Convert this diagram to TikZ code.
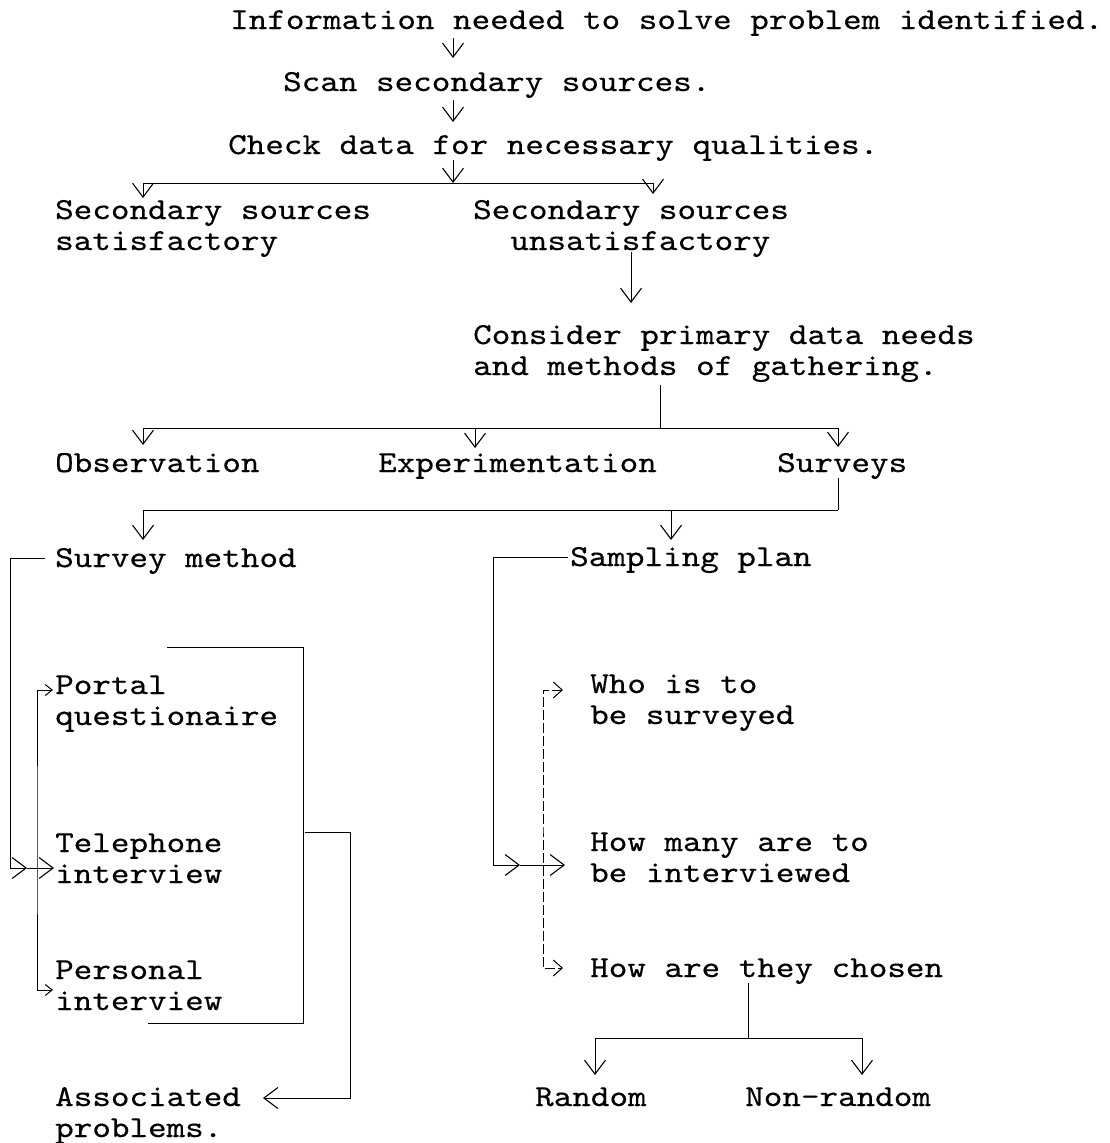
\documentclass[tikz,border=0pt]{standalone}
\usepackage{fontspec}
\setmonofont[FakeStretch=1.16,FakeBold=0.4]{lmmono10-regular.otf}
\usetikzlibrary{arrows.meta,calc}
\begin{document}
\begin{tikzpicture}[x=1pt,y=-1pt,
  txt/.style={font=\fontsize{30.5}{31}\selectfont\ttfamily, inner sep=0pt, anchor=base west, align=left},
  ln/.style={line width=1pt},
  arr/.style={ln,-{Straight Barb[length=14pt,width=21pt,line width=1.1pt]}},
  arrs/.style={ln,{Straight Barb[length=7pt,width=11pt,line width=1pt]}-{Straight Barb[length=7pt,width=11pt,line width=1pt]}},
  dsh/.style={line width=0.8pt, dash pattern=on 10pt off 3pt,
    {Straight Barb[length=9pt,width=16pt,line width=1pt]}-{Straight Barb[length=9pt,width=16pt,line width=1pt]}}]
\useasboundingbox (0,0) rectangle (1109,1143);
% nodes (base anchor = baseline of the last line)
\node[txt] (info) at (230,29) {Information needed to solve problem identified.};
\node[txt] (scan) at (283,91) {Scan secondary sources.};
\node[txt] (check) at (228,154) {Check data for necessary qualities.};
\node[txt] (ssat) at (55,250) {Secondary sources\\satisfactory};
\node[txt] (sunsat) at (473,250) {Secondary sources\\\phantom{xx}unsatisfactory};
\node[txt] (consider) at (473,375) {Consider primary data needs\\and methods of gathering.};
\node[txt] (obs) at (55,472) {Observation};
\node[txt] (expm) at (378,472) {Experimentation};
\node[txt] (surv) at (777,472) {Surveys};
\node[txt] (smeth) at (55,567) {Survey method};
\node[txt] (splan) at (570,566) {Sampling plan};
\node[txt] (portal) at (55,725) {Portal\\questionaire};
\node[txt] (tel) at (55,883) {Telephone\\interview};
\node[txt] (pers) at (55,1010) {Personal\\interview};
\node[txt] (assoc) at (55,1137) {Associated\\problems.};
\node[txt] (who) at (590,724) {Who is to\\be surveyed};
\node[txt] (many) at (590,882) {How many are to\\be interviewed};
\node[txt] (chosen) at (590,977) {How are they chosen};
\node[txt] (rand) at (535,1106) {Random};
\node[txt] (nonrand) at (745,1106) {Non-random};
% junction coordinates
\coordinate (j1) at (453,183);
\coordinate (b1) at (143,183);
\coordinate (b2) at (653,183);
\coordinate (c1) at (631,0);
\coordinate (d0) at (660,428);
\coordinate (d1) at (143,428);
\coordinate (d2) at (475,428);
\coordinate (d3) at (838,428);
\coordinate (e0) at (838,510);
\coordinate (e1) at (143,510);
\coordinate (e2) at (671,510);
\coordinate (f1) at (10,868);
\coordinate (f2) at (27,868);
\coordinate (g1) at (37,840);
\coordinate (k1) at (167,647);
\coordinate (k2) at (303,647);
\coordinate (k3) at (303,1023);
\coordinate (k4) at (148,1023);
\coordinate (p1) at (305,832);
\coordinate (p2) at (350,832);
\coordinate (p3) at (350,1098);
\coordinate (h1) at (493,865);
\coordinate (h2) at (520,865);
\coordinate (m1) at (543,830);
\coordinate (n0) at (748,1038);
\coordinate (n1) at (595,1038);
\coordinate (n2) at (862,1038);
% connectors
\draw[arr] ($(info.base -| j1)+(0,9)$) -- ($(scan.base -| j1)+(0,-33)$);
\draw[arr] ($(scan.base -| j1)+(0,9)$) -- ($(check.base -| j1)+(0,-32)$);
\draw[arr] ($(check.base -| j1)+(0,6)$) -- (j1);
\draw[ln] (b1) -- (b2);
\draw[arr] (b1) -- ($(ssat.base -| b1)+(0,-52)$);
\draw[arr] (b2) -- ($(sunsat.base -| b2)+(0,-56)$);
\draw[arr] ($(sunsat.base -| c1)+(0,2)$) -- ($(consider.base -| c1)+(0,-72)$);
\draw[ln] ($(consider.base -| d0)+(0,10)$) -- (d0);
\draw[ln] (d1) -- (d3);
\draw[arr] (d1) -- ($(obs.base -| d1)+(0,-27)$);
\draw[arr] (d2) -- ($(expm.base -| d2)+(0,-24)$);
\draw[arr] (d3) -- ($(surv.base -| d3)+(0,-25)$);
\draw[ln] ($(surv.base -| e0)+(0,6)$) -- (e0);
\draw[ln] (e1) -- (e0);
\draw[arr] (e1) -- ($(smeth.base -| e1)+(0,-27)$);
\draw[arr] (e2) -- ($(splan.base -| e2)+(0,-26)$);
% survey method bus
\draw[arr] ($(smeth.base west)+(-10,-9)$) -| (f1) -- (f2);
\draw[arr] (f2) -- ($(tel.base west)+(-1,-15)$);
\draw[arrs] ($(portal.base west)+(-2,-35)$) -| (g1) |- ($(pers.base west)+(-2,-20)$);
\draw[ln] (k1) -- (k2) -- (k3) -- (k4);
\draw[arr] (p1) -- (p2) -- (p3) -- ($(assoc.base west)+(208,-39)$);
% sampling plan bus
\draw[arr] ($(splan.base west)+(-2,-9)$) -| (h1) -- (h2);
\draw[arr] (h2) -- ($(many.base west)+(-25,-17)$);
\draw[dsh] ($(who.base west)+(-27,-34)$) -| (m1) |- ($(chosen.base west)+(-27,-9)$);
\draw[ln] ($(chosen.base -| n0)+(0,6)$) -- (n0);
\draw[ln] (n1) -- (n2);
\draw[arr] (n1) -- ($(rand.base -| n1)+(0,-31)$);
\draw[arr] (n2) -- ($(nonrand.base -| n2)+(0,-31)$);
\end{tikzpicture}
\end{document}
